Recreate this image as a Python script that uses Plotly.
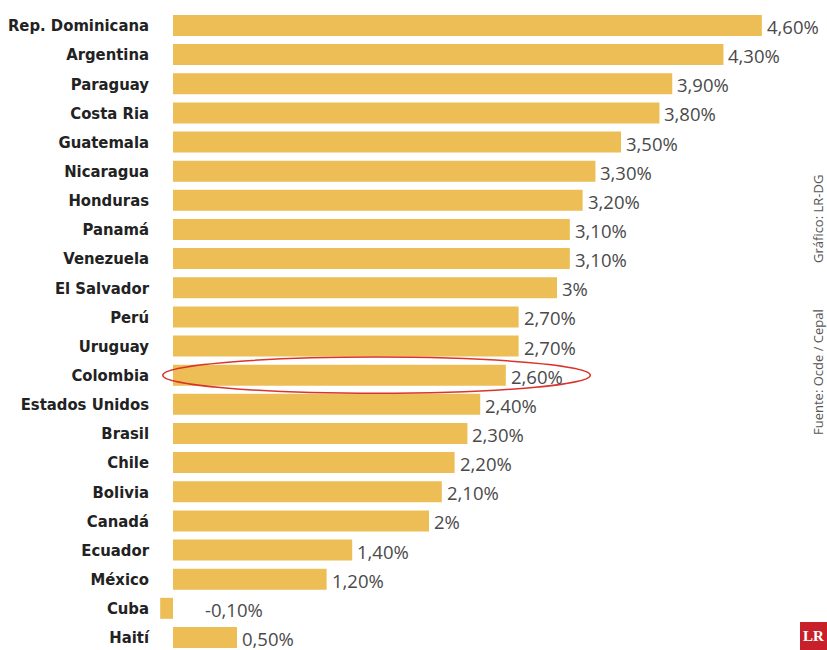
import plotly.graph_objects as go

countries = ["Rep. Dominicana", "Argentina", "Paraguay", "Costa Ria", "Guatemala",
             "Nicaragua", "Honduras", "Panamá", "Venezuela", "El Salvador", "Perú",
             "Uruguay", "Colombia", "Estados Unidos", "Brasil", "Chile", "Bolivia",
             "Canadá", "Ecuador", "México", "Cuba", "Haití"]
values = [4.6, 4.3, 3.9, 3.8, 3.5, 3.3, 3.2, 3.1, 3.1, 3.0, 2.7, 2.7, 2.6, 2.4,
          2.3, 2.2, 2.1, 2.0, 1.4, 1.2, -0.1, 0.5]
labels = ["4,60%", "4,30%", "3,90%", "3,80%", "3,50%", "3,30%", "3,20%", "3,10%",
          "3,10%", "3%", "2,70%", "2,70%", "2,60%", "2,40%", "2,30%", "2,20%",
          "2,10%", "2%", "1,40%", "1,20%", "-0,10%", "0,50%"]
highlight = "Colombia"
source_text = "Fuente: Ocde / Cepal"
credit_text = "Gráfico: LR-DG"

BAR = "#EDBE55"
W, H = 827, 650
L = 155
PW = W - L

fig = go.Figure()
fig.add_trace(go.Bar(
    x=values, y=countries, orientation="h",
    marker=dict(color=BAR, line=dict(width=0)),
    hoverinfo="skip",
))

for c, v, t in zip(countries, values, labels):
    fig.add_annotation(
        x=max(v, 0), y=c, xref="x", yref="y", text=t, showarrow=False,
        xanchor="left", yanchor="middle", xshift=3 if v > 0 else 30, yshift=-1,
        font=dict(family="Open Sans, sans-serif", size=18.5, color="#4a4a4a"),
    )

hi = countries.index(highlight)
fig.add_shape(type="circle", xref="x", yref="y",
              x0=-0.08, x1=3.26, y0=hi - 0.62, y1=hi + 0.62,
              line=dict(color="#D9342B", width=1.5))

for txt, yc in ((source_text, 372), (credit_text, 219)):
    fig.add_annotation(
        x=(818 - L) / PW, y=1 - yc / H, xref="paper", yref="paper",
        text=txt, showarrow=False, textangle=-90, xanchor="center", yanchor="middle",
        font=dict(family="Open Sans, sans-serif", size=13, color="#555555"),
    )

# LR logo
fig.add_shape(type="rect", xref="paper", yref="paper",
              x0=(800 - L) / PW, x1=1.0, y0=0, y1=28 / H,
              fillcolor="#C8202A", line=dict(width=0), layer="above")
fig.add_annotation(x=(813.5 - L) / PW, y=14 / H, xref="paper", yref="paper",
                   text="<b>LR</b>", showarrow=False, xanchor="center", yanchor="middle",
                   font=dict(family="Liberation Serif, serif", size=15, color="white"))

fig.update_layout(
    width=W, height=H,
    margin=dict(l=L, r=0, t=0, b=0, autoexpand=False),
    plot_bgcolor="white", paper_bgcolor="white",
    bargap=0.28, showlegend=False,
    xaxis=dict(range=[-0.1406, 5.109], showgrid=False, zeroline=False,
               showticklabels=False, fixedrange=True, automargin=False),
    yaxis=dict(range=[21.43, -0.874], showgrid=False, zeroline=False,
               ticks="", ticklabelstandoff=5, automargin=False, fixedrange=True,
               tickfont=dict(family="DejaVu Sans Condensed, DejaVu Sans, sans-serif",
                             size=16.5, color="#222222", weight="bold")),
)

fig.write_html("out.html", config={"displayModeBar": False},
               post_script="document.body.style.margin='0';document.body.style.padding='0';")
